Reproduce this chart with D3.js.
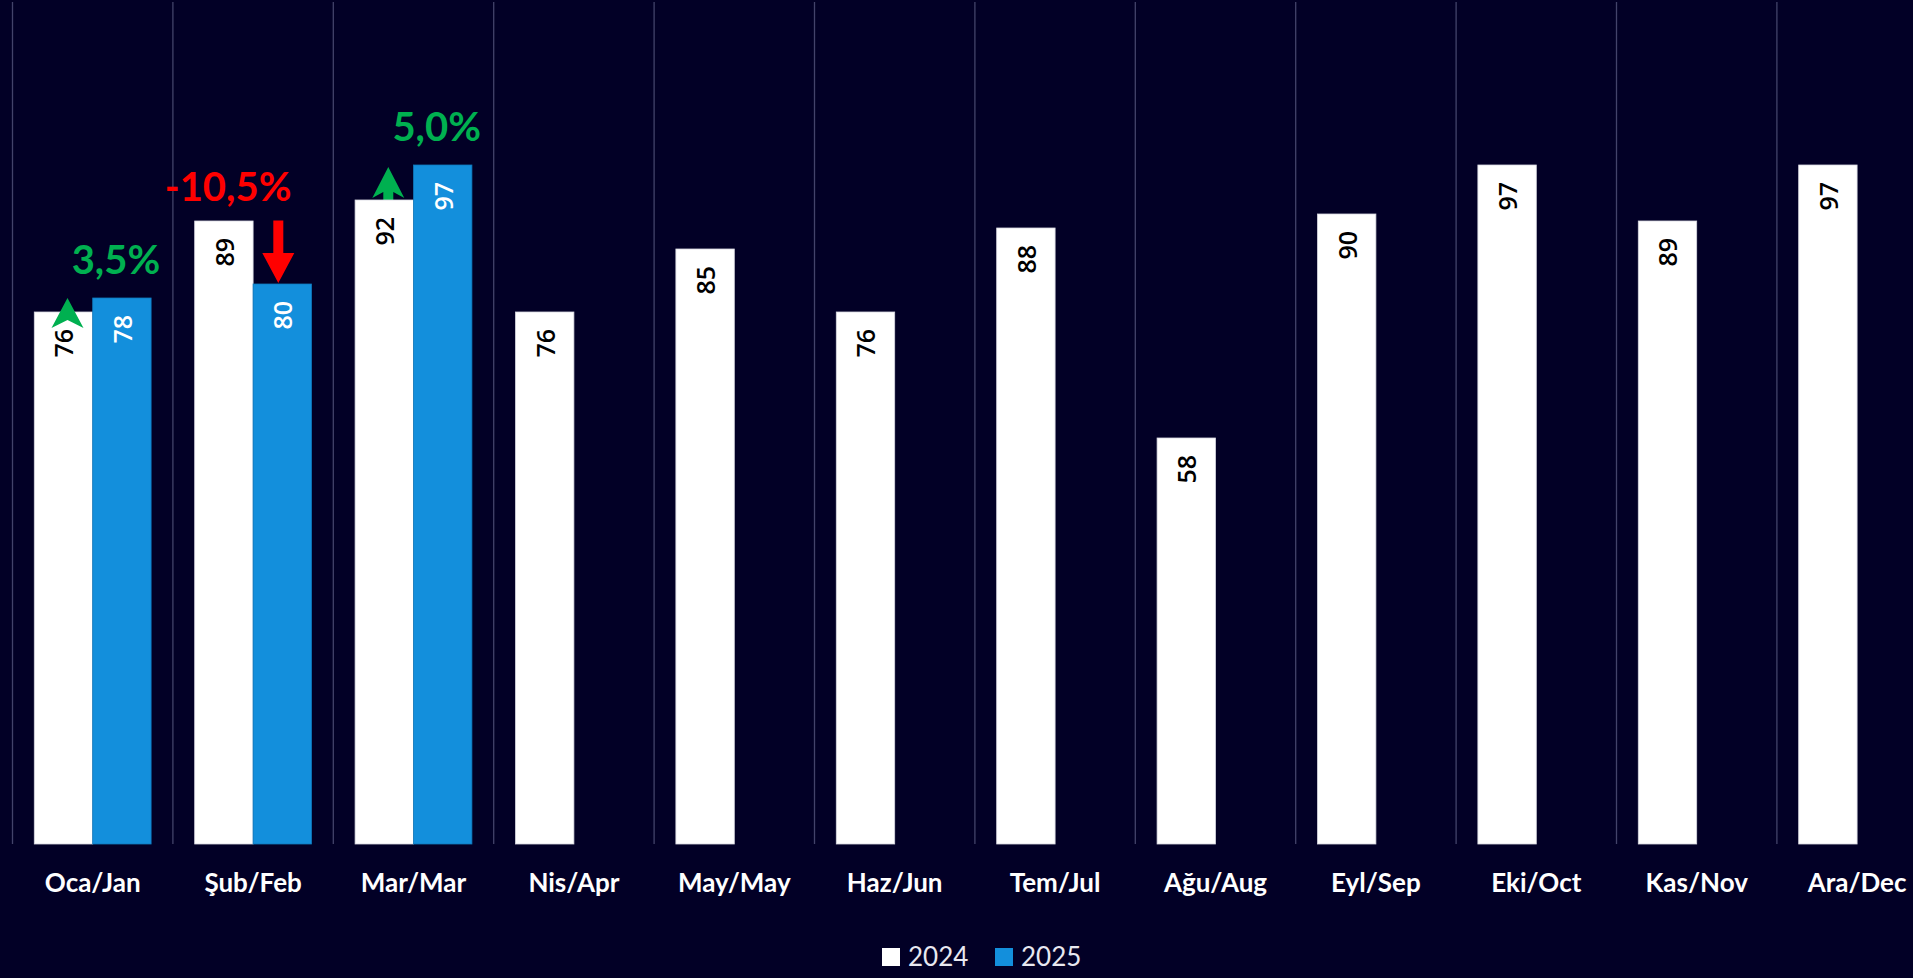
<!DOCTYPE html>
<html>
<head>
<meta charset="utf-8">
<script src="https://cdn.jsdelivr.net/npm/d3@7"></script>
<style>
  html, body { margin: 0; padding: 0; background: #020026; }
  svg { display: block; }
</style>
</head>
<body>
<div id="svg-area"></div>
<script>
// aylık değerler 2024 / 2025
const months = ['Oca/Jan', 'Şub/Feb', 'Mar/Mar', 'Nis/Apr', 'May/May', 'Haz/Jun',
                'Tem/Jul', 'Ağu/Aug', 'Eyl/Sep', 'Eki/Oct', 'Kas/Nov', 'Ara/Dec'];
const seriesNames = ['2024', '2025'];
const values2024 = [76, 89, 92, 76, 85, 76, 88, 58, 90, 97, 89, 97];
const values2025 = [78, 80, 97];
const changeLabels = ['3,5%', '-10,5%', '5,0%'];
const changeDir = ['up', 'down', 'up'];

const width = 1913;
const height = 978;
const plot = {left: 12.5, right: 1937.3, top: 4, bottom: 844};
const colors = {'2024': '#ffffff', '2025': '#138fdc'};

const data = [];
months.forEach((m, i) => {
  data.push({month: m, series: '2024', value: values2024[i]});
  if (i < values2025.length) data.push({month: m, series: '2025', value: values2025[i]});
});

const x = d3.scaleBand()
  .domain(months)
  .range([plot.left, plot.right]);

const x1 = d3.scaleBand()
  .domain(seriesNames)
  .range([0, x.bandwidth()])
  .paddingOuter(0.373);

const y = d3.scaleLinear()
  .domain([0, 120])
  .range([plot.bottom, plot.top]);

const svg = d3.select('#svg-area').append('svg')
  .attr('width', width).attr('height', height)
  .style('background', '#020026');

// dikey ayırıcı çizgiler
svg.append('g')
  .selectAll('line').data(months).enter().append('line')
  .attr('x1', d => x(d)).attr('x2', d => x(d))
  .attr('y1', 2).attr('y2', plot.bottom)
  .attr('stroke', '#43436a').attr('stroke-width', 1.3);

// ay etiketleri
const xAxis = g => g
  .attr('transform', `translate(0, ${plot.bottom})`)
  .call(d3.axisBottom(x).tickSize(0).tickPadding(30))
  .call(g => g.select('.domain').remove())
  .call(g => g.selectAll('text')
    .attr('fill', '#ffffff')
    .style('font-family', 'Lato, sans-serif')
    .style('font-weight', 700)
    .style('font-size', '26px'));

svg.append('g').call(xAxis);

const upArrow = (cx, t) =>
  `M${cx},${t} L${cx + 16},${t + 31} L${cx + 5},${t + 25} L${cx + 5},${t + 40} L${cx - 5},${t + 40} L${cx - 5},${t + 25} L${cx - 16},${t + 31} Z`;

// Mart oku çubuğun arkasında kalıyor
changeDir.forEach((dir, i) => {
  if (dir === 'up' && i > 0) {
    const cx = x(months[i]) + x1('2024') + x1.bandwidth() / 2 + 4;
    svg.append('path').attr('d', upArrow(cx, y(values2025[i]) + 2)).attr('fill', '#00b050');
  }
});

// çubuklar
svg.append('g')
  .selectAll('rect').data(data).enter().append('rect')
  .attr('x', d => x(d.month) + x1(d.series))
  .attr('y', d => y(d.value))
  .attr('width', x1.bandwidth())
  .attr('height', d => y(0) - y(d.value))
  .attr('fill', d => colors[d.series])
  .attr('stroke', d => d.series === '2024' ? '#d8d8e0' : '#0f78bb')
  .attr('stroke-width', 0.8);

// Ocak ve Şubat okları çubukların üstünde
changeDir.forEach((dir, i) => {
  const m = months[i];
  const t2025 = y(values2025[i]);
  if (dir === 'up' && i === 0) {
    const cx = x(m) + x1('2024') + x1.bandwidth() / 2 + 4;
    svg.append('path')
      .attr('d', `M${cx},${t2025} L${cx + 16},${t2025 + 30} L${cx},${t2025 + 22} L${cx - 16},${t2025 + 30} Z`)
      .attr('fill', '#00b050');
  }
  if (dir === 'down') {
    const cx = x(m) + x1('2025') + x1.bandwidth() / 2 - 4;
    const top = y(values2024[i]) - 0.5;
    svg.append('path')
      .attr('d', `M${cx - 5},${top} L${cx + 5},${top} L${cx + 5},${t2025 - 31} L${cx + 16},${t2025 - 31}
                  L${cx},${t2025 - 1} L${cx - 16},${t2025 - 31} L${cx - 5},${t2025 - 31} Z`)
      .attr('fill', '#ff0000');
  }
});

// değer etiketleri
svg.append('g')
  .selectAll('text').data(data).enter().append('text')
  .attr('transform', d => `translate(${x(d.month) + x1(d.series) + x1.bandwidth() / 2}, ${y(d.value) + 17})rotate(-90)`)
  .attr('text-anchor', 'end')
  .attr('dominant-baseline', 'central')
  .attr('fill', d => d.series === '2024' ? '#000000' : '#ffffff')
  .style('font-family', '"Open Sans", sans-serif')
  .style('font-weight', 600)
  .style('font-size', '25px')
  .text(d => d.value);

// yüzde değişim etiketleri
svg.append('g')
  .selectAll('text').data(changeLabels).enter().append('text')
  .attr('x', (d, i) => changeDir[i] === 'up'
      ? x(months[i]) + x1('2025') + x1.bandwidth() / 2 - 6
      : x(months[i]) + x.bandwidth() / 2 - 25)
  .attr('y', (d, i) => changeDir[i] === 'up'
      ? y(values2025[i]) - 24
      : y(values2024[i]) - 20)
  .attr('text-anchor', 'middle')
  .attr('fill', (d, i) => changeDir[i] === 'up' ? '#00b050' : '#ff0000')
  .style('font-family', 'Lato, sans-serif')
  .style('font-weight', 700)
  .style('font-size', '40px')
  .text(d => d);

// lejant
const legend = svg.append('g')
  .selectAll('g').data(seriesNames).enter().append('g')
  .attr('transform', (d, i) => `translate(${882 + i * 113}, 948)`);

legend.append('rect')
  .attr('width', 18).attr('height', 18)
  .attr('fill', d => colors[d]);

legend.append('text')
  .attr('x', 26).attr('y', 18)
  .attr('fill', '#e8e8f0')
  .style('font-family', 'Lato, sans-serif')
  .style('font-size', '26px')
  .text(d => d);
</script>
</body>
</html>
